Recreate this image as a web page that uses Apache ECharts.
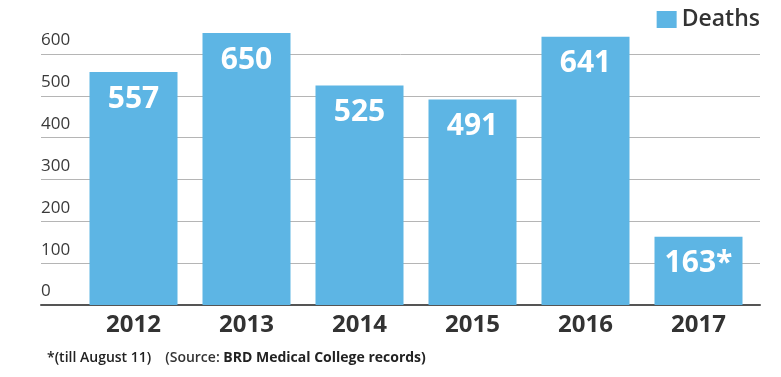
<!DOCTYPE html>
<html>
<head>
<meta charset="utf-8">
<script src="https://cdn.jsdelivr.net/npm/echarts@6/dist/echarts.min.js"></script>
<style>
  html, body { margin: 0; padding: 0; background: #fff; }
  #chart { width: 781px; height: 377px; }
</style>
</head>
<body>
<div id="chart"></div>
<script>
// data
var years = ['2012', '2013', '2014', '2015', '2016', '2017'];
var deaths = [557, 650, 525, 491, 641, 163];
var marks = ['', '', '', '', '', '*'];   // 2017 only till August 11
var yTicks = [0, 100, 200, 300, 400, 500, 600];

var chart = echarts.init(document.getElementById('chart'));
var font = '"Open Sans", "Liberation Sans", sans-serif';

var option = {
  animation: false,
  textStyle: { fontFamily: font },
  legend: {
    data: ['Deaths'],
    right: 16,
    top: 3,
    icon: 'rect',
    itemWidth: 20,
    itemHeight: 17,
    itemGap: 6,
    textStyle: { fontSize: 23, color: '#333', fontFamily: font, fontWeight: 600 }
  },
  title: {
    left: 42,
    top: 344,
    text: '{a|*(till August 11)}   {b|(Source: }{c|BRD Medical College records)}',
    textStyle: {
      rich: {
        a: { fontSize: 14, fontWeight: 600, color: '#222', fontFamily: font },
        b: { fontSize: 14, fontWeight: 600, color: '#333', fontFamily: font },
        c: { fontSize: 14, fontWeight: 'bold', color: '#222', fontFamily: font }
      }
    }
  },
  grid: [
    // gridlines + y labels, full width
    { left: 41, right: 21, top: 54, bottom: 72 },
    // bars
    { left: 77, right: 26, top: 54, bottom: 72 }
  ],
  xAxis: [
    {
      type: 'category', gridIndex: 0, data: years,
      axisLine: { lineStyle: { color: '#555', width: 2 } },
      axisTick: { show: false },
      axisLabel: { show: false }
    },
    {
      type: 'category', gridIndex: 1, data: years,
      axisLine: { show: false },
      axisTick: { show: false },
      axisLabel: { fontSize: 24, fontWeight: 'bold', color: '#333', margin: 8, fontFamily: font }
    }
  ],
  yAxis: [
    {
      type: 'value', gridIndex: 0, min: yTicks[0], max: yTicks[yTicks.length - 1], interval: 100,
      axisLine: { show: false },
      axisTick: { show: false },
      splitLine: { lineStyle: { color: '#b5b5b5', width: 1 } },
      axisLabel: {
        inside: true, margin: 0, align: 'left', verticalAlign: 'bottom',
        padding: [0, 0, 5, 0],
        fontSize: 17, color: '#3a3a3a', fontFamily: font
      }
    },
    {
      type: 'value', gridIndex: 1, min: yTicks[0], max: yTicks[yTicks.length - 1], interval: 100,
      show: false
    }
  ],
  series: [
    {
      name: 'Deaths',
      type: 'bar',
      xAxisIndex: 1,
      yAxisIndex: 1,
      data: deaths,
      barWidth: 88,
      clip: false,
      itemStyle: { color: '#5db5e4' },
      label: {
        show: true,
        position: 'insideTop',
        distance: 12,
        fontSize: 30,
        fontWeight: 'bold',
        color: '#fff',
        fontFamily: font,
        formatter: function (p) { return p.value + marks[p.dataIndex]; }
      }
    }
  ]
};

chart.setOption(option);
</script>
</body>
</html>
